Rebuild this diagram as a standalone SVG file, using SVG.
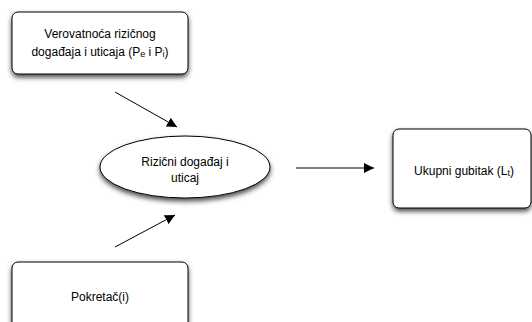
<svg xmlns="http://www.w3.org/2000/svg" width="532" height="322" viewBox="0 0 532 322">
<style>
.node{fill:#fff;stroke:#000;stroke-width:1;filter:url(#sh)}
.t{font-family:"Liberation Sans",Arial,sans-serif;font-size:12px;fill:#000;text-anchor:middle}
.sub{font-size:9px}
.c{stroke:#000;stroke-width:1;fill:none;marker-end:url(#ah)}
</style>
<defs>
<filter id="sh" x="-20%" y="-30%" width="140%" height="170%">
<feDropShadow dx="0" dy="3" stdDeviation="2.5" flood-color="#000" flood-opacity="0.7"/>
</filter>
<marker id="ah" viewBox="0 0 10 10" refX="10" refY="5" markerWidth="10" markerHeight="10" markerUnits="userSpaceOnUse" orient="auto">
<path d="M0,0 L10,5 L0,10 z" fill="#000"/>
</marker>
</defs>
<g id="connectors">
<line class="c" x1="115" y1="92" x2="177" y2="127"/>
<line class="c" x1="115" y1="247" x2="175" y2="215"/>
<line class="c" x1="296" y1="168" x2="374" y2="168"/>
</g>
<g id="verovatnoca">
<rect class="node" x="12" y="12" width="176" height="62" rx="6"/>
<text class="t" x="100" y="38">Verovatnoća rizičnog</text>
<text class="t" x="100" y="56">događaja i uticaja (P<tspan class="sub" dy="1">e</tspan><tspan dy="-1"> i P</tspan><tspan class="sub" dy="1">i</tspan><tspan dy="-1">)</tspan></text>
</g>
<g id="rizicni">
<ellipse class="node" cx="185" cy="167" rx="85" ry="31"/>
<text class="t" x="185" y="166">Rizični događaj i</text>
<text class="t" x="185" y="182">uticaj</text>
</g>
<g id="ukupni">
<rect class="node" x="393" y="129" width="138" height="79" rx="6"/>
<text class="t" x="464" y="175">Ukupni gubitak (L<tspan class="sub" dy="1">t</tspan><tspan dy="-1">)</tspan></text>
</g>
<g id="pokretac">
<rect class="node" x="12" y="262" width="176" height="80" rx="6"/>
<text class="t" x="100" y="301">Pokretač(i)</text>
</g>
</svg>
